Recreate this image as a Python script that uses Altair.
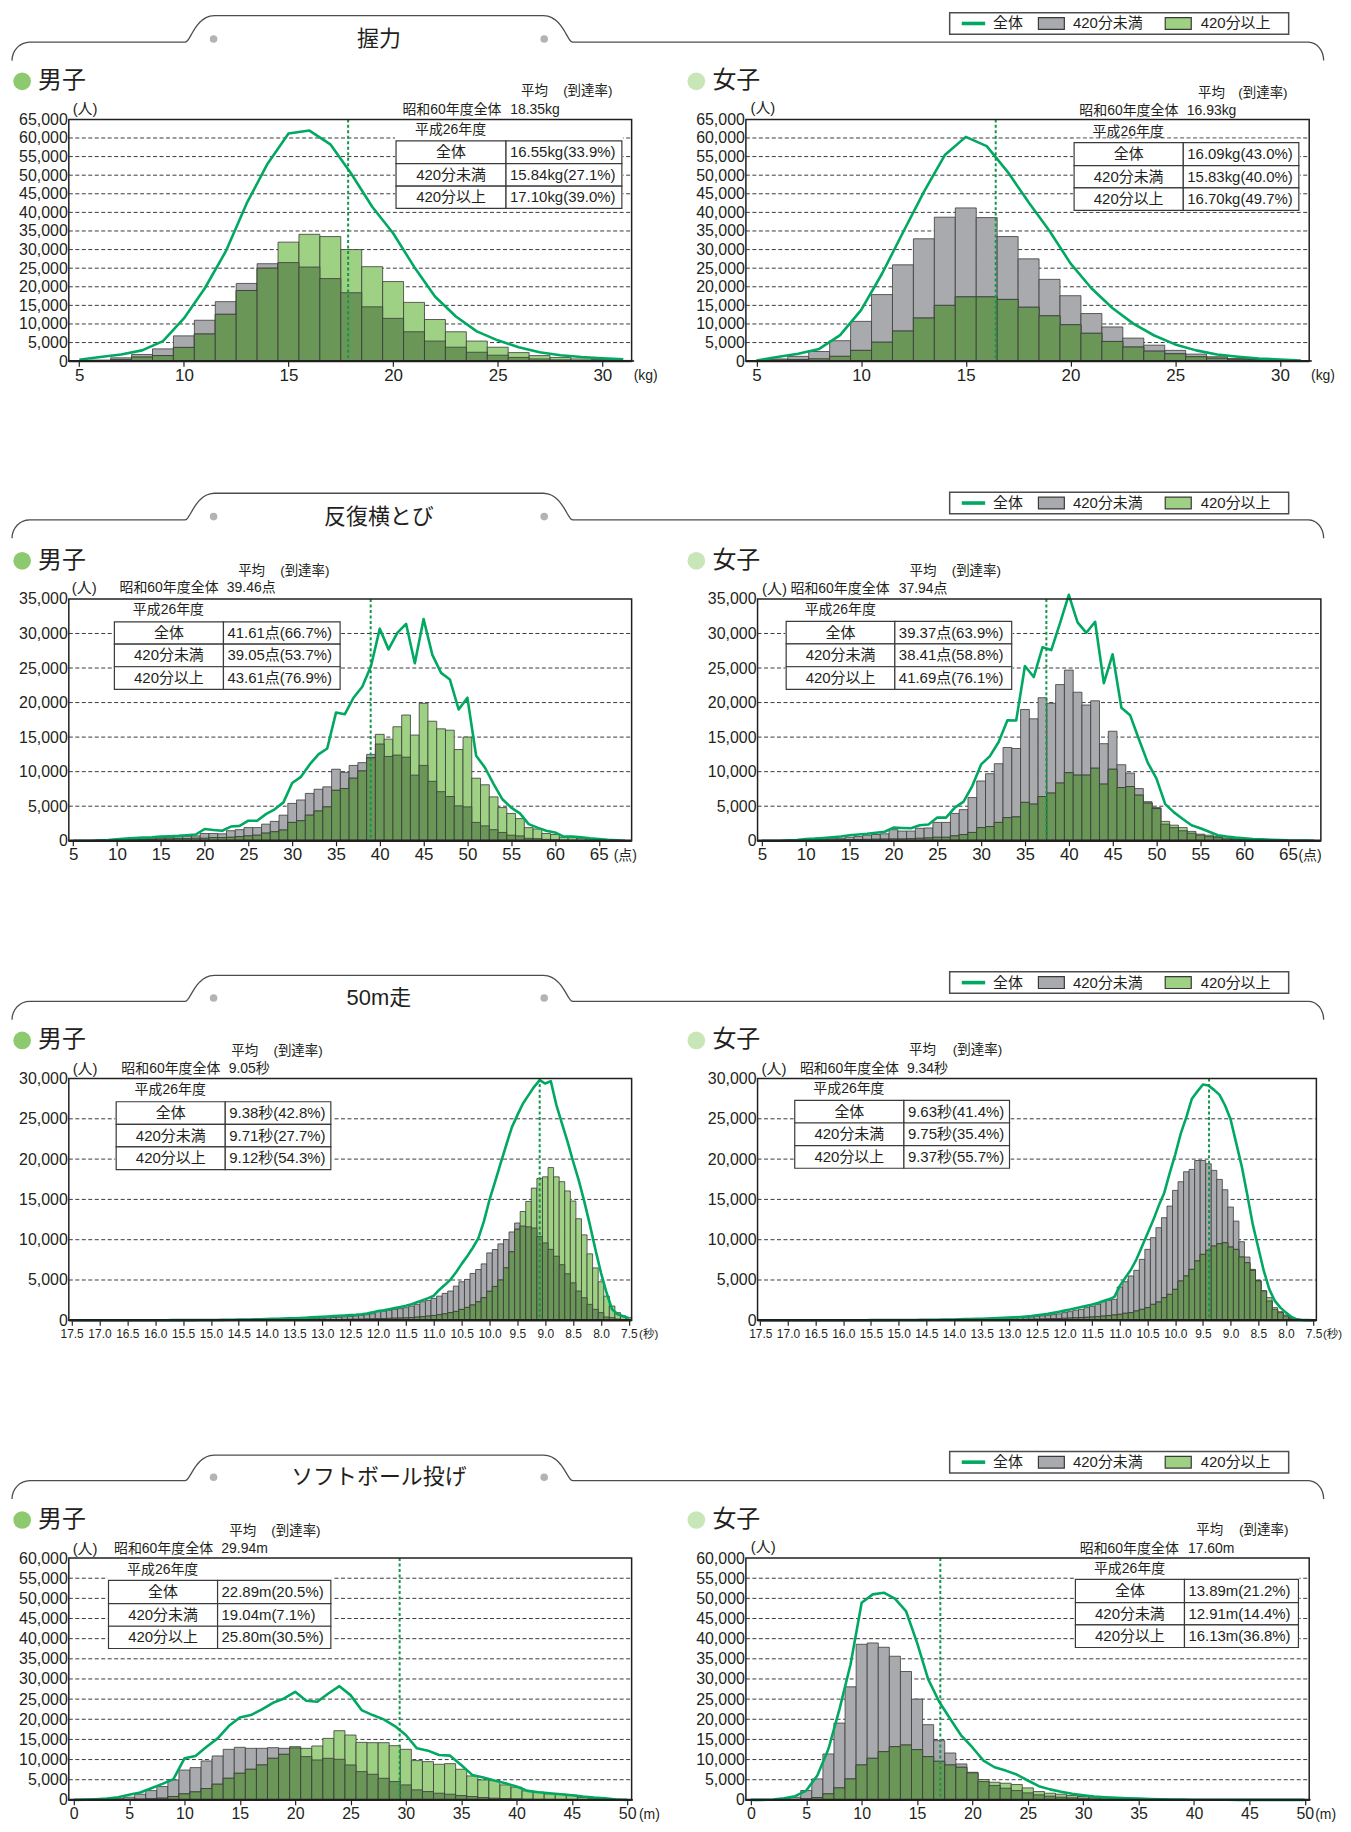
import math
import altair as alt
import pandas as pd

# ----------------------------------------------------------------- categories
GRIP_CLASSES = list(range(5, 32))                                   # kg
SIDE_CLASSES = list(range(5, 69))                                   # 点
RUN_CLASSES = [round(17.5 - 0.1 * i, 1) for i in range(101)]        # 秒 (17.5 -> 7.5)
BALL_CLASSES = list(range(0, 51))                                   # m

# ----------------------------------------------------------------- 握力
B_GRIP_UNDER = [0, 300, 900, 1800, 3300, 6800, 11000, 16000, 20900, 26200, 26500, 25300, 22200, 18400,
                14600, 11500, 7900, 5400, 3750, 2400, 1600, 1000, 600, 350, 200, 100, 50]
B_GRIP_OVER = [0, 100, 400, 1100, 1500, 3700, 7300, 12600, 19000, 25000, 32000, 34100, 33500, 30000,
               25400, 21400, 15800, 11200, 7900, 5400, 3750, 2300, 1500, 1000, 600, 450, 200]
B_GRIP_ALL = [400, 1100, 1800, 2900, 5400, 11500, 19600, 29500, 42400, 53100, 61200, 62000, 58300, 50400,
              41500, 34400, 25400, 17400, 12000, 8000, 5600, 3750, 2400, 1600, 1100, 800, 500]
G_GRIP_UNDER = [0, 600, 1300, 2600, 5500, 10700, 17900, 25900, 32900, 38700, 41200, 38600, 33500, 27500,
                22000, 17600, 12800, 9200, 6200, 4300, 2900, 1900, 1200, 700, 450, 250, 100]
G_GRIP_OVER = [0, 300, 450, 600, 1300, 2900, 5100, 8100, 11600, 15000, 17300, 17300, 16600, 14500,
               12200, 9800, 7500, 5300, 3800, 2700, 2000, 1200, 800, 500, 300, 200, 100]
G_GRIP_ALL = [200, 1100, 2000, 3300, 7000, 13700, 23500, 34600, 45500, 55400, 60300, 57800, 50900, 42700,
              35000, 26300, 19600, 14300, 10100, 6900, 4500, 2900, 1800, 1200, 700, 450, 200]

# ----------------------------------------------------------------- 反復横とび
B_SIDE_UNDER = [0, 0, 0, 50, 100, 200, 250, 300, 300, 350,
                500, 500, 600, 650, 700, 1050, 1050, 1000, 1450, 1600,
                1900, 1900, 2400, 2800, 3700, 5400, 5900, 6850, 7450, 7800,
                10350, 9900, 10900, 11300, 12500, 14000, 12200, 12400, 12100, 9500,
                10900, 8600, 7100, 6400, 5050, 4900, 2650, 2150, 1600, 1200,
                800, 700, 350, 300, 200, 150, 100, 80, 60, 40,
                30, 20, 10, 0]
B_SIDE_OVER = [0, 0, 0, 0, 0, 50, 80, 100, 120, 150,
               250, 250, 300, 300, 350, 350, 450, 450, 500, 600,
               700, 800, 1100, 1300, 1550, 2650, 2900, 3700, 4300, 4900,
               7300, 7550, 9050, 10100, 12000, 15400, 14700, 16500, 18200, 15300,
               19900, 17300, 16200, 16000, 13200, 15000, 9050, 8100, 6350, 4800,
               3950, 3200, 1900, 1700, 1050, 900, 500, 450, 350, 250,
               200, 120, 60, 0]
B_SIDE_ALL = [0, 0, 0, 50, 100, 200, 300, 400, 450, 500,
              600, 650, 700, 800, 900, 1700, 1550, 1450, 2050, 2150,
              2900, 2900, 3850, 4550, 5550, 8350, 9250, 11050, 12500, 13350,
              18550, 18300, 20700, 22300, 25300, 30700, 27700, 30100, 31400, 25700,
              32100, 26900, 24300, 23350, 19000, 20700, 12300, 10600, 8200, 6000,
              4800, 3950, 2400, 1900, 1450, 1200, 600, 600, 500, 350,
              250, 150, 80, 0]
G_SIDE_UNDER = [0, 0, 0, 30, 80, 150, 200, 250, 300, 350,
                500, 600, 800, 900, 1000, 1600, 1400, 1400, 1800, 1850,
                2650, 2650, 3950, 4500, 6250, 8650, 9700, 11150, 13500, 13350,
                19000, 17650, 20700, 19900, 22600, 24700, 21500, 19650, 20250, 14050,
                15850, 11000, 9800, 7550, 5650, 4800, 2400, 1900, 1450, 1100,
                800, 600, 450, 250, 200, 150, 100, 60, 40, 20,
                10, 0, 0, 0]
G_SIDE_OVER = [0, 0, 0, 0, 20, 40, 60, 80, 100, 120,
               150, 180, 200, 220, 240, 250, 250, 300, 350, 400,
               500, 500, 700, 900, 1200, 1900, 2050, 2650, 3350, 3450,
               5550, 5300, 6400, 6900, 8350, 9850, 9500, 9500, 10500, 8200,
               10350, 7700, 7850, 6600, 5450, 4650, 2800, 2250, 1900, 1350,
               950, 800, 600, 400, 300, 250, 150, 100, 60, 30,
               20, 10, 0, 0]
G_SIDE_ALL = [0, 0, 0, 50, 100, 250, 300, 400, 500, 600,
              800, 900, 1000, 1150, 1300, 1900, 1850, 1800, 2250, 2350,
              3350, 3350, 4800, 5650, 7950, 11050, 12250, 14300, 17450, 17400,
              25300, 23700, 28000, 27600, 31500, 35600, 31600, 30100, 31700, 22800,
              27000, 19250, 18150, 14700, 11300, 9000, 5300, 4100, 3150, 2250,
              1800, 1300, 800, 600, 450, 350, 250, 200, 150, 100,
              50, 30, 10, 0]

# ----------------------------------------------------------------- 50m走 (17.5 -> 7.5 秒)
B_RUN_UNDER = [0, 0, 0, 0, 0, 0, 0, 0, 0, 0,
               0, 0, 0, 5, 5, 5, 5, 5, 10, 10,
               10, 10, 15, 15, 20, 20, 25, 30, 30, 35,
               40, 50, 55, 60, 70, 80, 90, 100, 115, 130,
               150, 170, 190, 210, 240, 270, 300, 340, 380, 430,
               480, 540, 610, 700, 800, 1070, 1150, 1240, 1360, 1440,
               1560, 1770, 1980, 2300, 2470, 2720, 3000, 3340, 3630, 4240,
               4780, 5070, 5810, 6300, 7000, 8360, 8780, 9480, 10010, 10960,
               12070, 11700, 11600, 11450, 10400, 9600, 8800, 7950, 6900, 5770,
               4650, 3630, 2800, 1980, 1360, 950, 410, 330, 160, 80,
               30]
B_RUN_OVER = [0, 0, 0, 0, 0, 0, 0, 0, 0, 0,
              0, 0, 0, 0, 0, 0, 0, 0, 0, 0,
              0, 0, 0, 0, 5, 5, 5, 5, 5, 10,
              10, 10, 15, 15, 20, 20, 25, 30, 30, 35,
              40, 45, 50, 55, 60, 70, 80, 90, 100, 110,
              120, 130, 140, 160, 180, 200, 220, 240, 260, 280,
              300, 340, 390, 450, 520, 600, 700, 800, 950, 1100,
              1350, 1600, 1900, 2300, 2800, 3600, 4200, 5000, 6500, 8500,
              11300, 13500, 14750, 16400, 17600, 17800, 18950, 17800, 17200, 16050,
              14800, 12600, 10600, 8240, 6500, 4780, 3000, 1770, 950, 540,
              330]
B_RUN_ALL = [0, 0, 0, 0, 0, 0, 0, 0, 0, 0,
             0, 0, 0, 5, 5, 10, 10, 10, 15, 15,
             20, 20, 25, 30, 35, 40, 45, 50, 60, 70,
             80, 90, 100, 110, 130, 150, 170, 190, 210, 240,
             260, 290, 320, 360, 400, 440, 480, 520, 560, 600,
             640, 690, 760, 850, 980, 1150, 1250, 1380, 1520, 1650,
             1800, 2000, 2250, 2500, 2750, 3050, 3800, 4400, 5050, 5970,
             7000, 7950, 9000, 10200, 12300, 14960, 17200, 19500, 21750, 23940,
             25460, 26900, 27940, 28970, 29790, 29380, 29670, 26700, 24400, 22170,
             19700, 17400, 14750, 11870, 8780, 5890, 3420, 1360, 740, 490,
             250]
G_RUN_UNDER = [0, 0, 0, 0, 0, 0, 0, 0, 0, 0,
               0, 0, 0, 0, 0, 5, 5, 5, 10, 10,
               10, 15, 15, 20, 20, 25, 30, 30, 35, 40,
               45, 50, 60, 70, 80, 90, 100, 110, 130, 150,
               170, 190, 210, 230, 250, 270, 300, 340, 380, 440,
               500, 550, 620, 700, 800, 950, 1070, 1240, 1360, 1570,
               1740, 1980, 2310, 2480, 2600, 4130, 4790, 5500, 6200, 7560,
               8800, 10250, 11490, 12730, 14170, 16120, 17190, 18430, 18720, 19830,
               19830, 19420, 18600, 17480, 16200, 14050, 12310, 9750, 7850, 6320,
               4960, 3640, 2400, 1360, 950, 540, 250, 120, 50, 20,
               0]
G_RUN_OVER = [0, 0, 0, 0, 0, 0, 0, 0, 0, 0,
              0, 0, 0, 0, 0, 0, 0, 0, 0, 0,
              0, 0, 0, 0, 5, 5, 5, 5, 10, 10,
              10, 15, 15, 20, 20, 25, 30, 35, 40, 45,
              50, 55, 60, 70, 80, 90, 100, 110, 120, 130,
              140, 160, 180, 200, 220, 250, 280, 310, 340, 370,
              410, 460, 520, 590, 660, 740, 870, 950, 1160, 1360,
              1570, 1980, 2270, 2810, 3220, 3840, 4880, 5500, 6320, 7360,
              8180, 8680, 9210, 9500, 9630, 9090, 8800, 7850, 7150, 6200,
              4880, 3640, 2810, 1570, 1070, 660, 330, 80, 30, 10,
              0]
G_RUN_ALL = [0, 0, 0, 0, 0, 0, 0, 0, 0, 0,
             0, 0, 0, 0, 5, 5, 5, 10, 10, 10,
             15, 15, 20, 20, 25, 30, 35, 40, 45, 50,
             55, 60, 70, 80, 90, 100, 120, 140, 160, 180,
             200, 220, 250, 280, 300, 330, 370, 410, 460, 520,
             620, 700, 800, 920, 1050, 1200, 1340, 1500, 1650, 1800,
             1950, 2150, 2400, 2600, 2900, 4300, 5300, 6300, 7600, 9200,
             10800, 12400, 14200, 15800, 18300, 20600, 23200, 25200, 27500, 28400,
             29260, 29130, 28590, 27970, 26650, 24920, 22020, 19130, 15620, 11900,
             9010, 6120, 3840, 2400, 1570, 950, 410, 120, 40, 20,
             0]

# ----------------------------------------------------------------- ソフトボール投げ
B_BALL_UNDER = [0, 0, 80, 160, 400, 660, 1400, 2300, 3300, 4950,
                7400, 8000, 9650, 10900, 12540, 13040, 12790, 12790, 12950, 12790,
                12900, 10730, 9900, 10310, 10070, 8660, 7010, 6350, 5360, 4540,
                3710, 2480, 2060, 1650, 1400, 1070, 830, 580, 410, 330,
                250, 170, 130, 100, 80, 60, 40, 30, 20, 10,
                0]
B_BALL_OVER = [0, 0, 0, 20, 50, 100, 160, 250, 410, 830,
               1490, 1980, 2800, 3880, 5360, 6600, 7590, 8660, 10310, 11300,
               13200, 12790, 13370, 15260, 17160, 16090, 14270, 14190, 14190, 13450,
               12540, 9740, 9490, 8830, 8990, 7590, 5940, 4950, 4790, 3710,
               3140, 2230, 1900, 1490, 1400, 1160, 580, 410, 330, 160,
               0]
B_BALL_ALL = [0, 50, 160, 330, 660, 1240, 1820, 2890, 3960, 5120,
              10310, 10890, 13200, 15260, 18320, 20460, 21040, 22440, 24090, 25170,
              26820, 24590, 24340, 26400, 28220, 25990, 22280, 21040, 19970, 18320,
              16090, 12790, 12210, 11140, 10970, 8660, 6190, 5530, 4790, 4130,
              3300, 2230, 1900, 1650, 1400, 1160, 830, 580, 410, 80,
              0]
G_BALL_UNDER = [0, 0, 80, 250, 660, 2310, 5200, 11390, 19060, 28050,
                38610, 38940, 37870, 35640, 31850, 25000, 18650, 14690, 11630, 8910,
                6700, 4540, 3550, 2890, 2310, 1730, 1240, 910, 660, 500,
                410, 250, 170, 120, 80, 60, 50, 40, 30, 20,
                15, 10, 10, 5, 5, 0, 0, 0, 0, 0,
                0]
G_BALL_OVER = [0, 0, 0, 0, 80, 250, 580, 1490, 2970, 5200,
               8660, 10310, 11960, 13200, 13610, 12460, 10730, 9570, 8660, 8090,
               6850, 5030, 4370, 4130, 3800, 2970, 2060, 1650, 1400, 1070,
               830, 660, 500, 410, 330, 250, 200, 150, 120, 100,
               80, 60, 50, 40, 30, 20, 15, 10, 5, 0,
               0]
G_BALL_ALL = [0, 0, 80, 410, 910, 2310, 6020, 12620, 22520, 33660,
              48930, 50990, 51400, 49920, 46860, 39030, 29950, 24340, 20050, 15920,
              13000, 9740, 8090, 7260, 6270, 4800, 3400, 2600, 2000, 1500,
              1150, 850, 650, 500, 400, 300, 200, 150, 80, 60,
              40, 30, 20, 10, 0, 0, 0, 0, 0, 0,
              0]

# ----------------------------------------------------------------- texts
TEST_NAMES = ["握力", "反復横とび", "50m走", "ソフトボール投げ"]
SEX_NAMES = ["男子", "女子"]
GROUP_NAMES = ["全体", "420分未満", "420分以上"]
S60_LABEL = "昭和60年度全体"
H26_LABEL = "平成26年度"
AVG_LABEL = "平均"
RATE_LABEL = "(到達率)"
PEOPLE_LABEL = "(人)"
UNITS = ["(kg)", "(点)", "(秒)", "(m)"]

S60_VALUES = ["18.35kg", "16.93kg", "39.46点", "37.94点", "9.05秒", "9.34秒", "29.94m", "17.60m"]
S60_MEANS = [18.35, 16.93, 39.46, 37.94, 9.05, 9.34, 29.94, 17.60]
H26_VALUES = [
    ["16.55kg(33.9%)", "15.84kg(27.1%)", "17.10kg(39.0%)"],
    ["16.09kg(43.0%)", "15.83kg(40.0%)", "16.70kg(49.7%)"],
    ["41.61点(66.7%)", "39.05点(53.7%)", "43.61点(76.9%)"],
    ["39.37点(63.9%)", "38.41点(58.8%)", "41.69点(76.1%)"],
    ["9.38秒(42.8%)", "9.71秒(27.7%)", "9.12秒(54.3%)"],
    ["9.63秒(41.4%)", "9.75秒(35.4%)", "9.37秒(55.7%)"],
    ["22.89m(20.5%)", "19.04m(7.1%)", "25.80m(30.5%)"],
    ["13.89m(21.2%)", "12.91m(14.4%)", "16.13m(36.8%)"],
]

# ----------------------------------------------------------------- style / layout
FONT = "Liberation Sans, Noto Sans CJK JP"
NUM_FONT = "Liberation Sans"
INK = "#231f20"
C_UNDER = "#a9aaad"
C_OVER = "#9ed183"
C_BOTH = "#6a9658"
C_EDGE = "#3b3b3b"
C_TOTAL = "#00a862"
C_MEAN = "#13974b"
C_GRID = "#3a3a3a"
C_TAB = "#3a3a3a"
C_HEAD = "#4d4d4d"
C_BOY = "#8dca6f"
C_GIRL = "#c8e6b7"
C_DOT = "#b3b3b3"

H = 242.5
BOYS_W = 564.5
GIRLS_W = [565.0, 565.0, 560.5, 565.0]
GIRLS_SHIFT = [0.0, 11.7, 11.7, 0.0]
COL_GAP = 743.6 - 65.0 - BOYS_W
ROW_GAP = 238.0
UNIT_X = [566.6, 566.8, 546.5, 542.5, 572.0, 567.2, 571.8, 571.0]
UNIT_FS = [14, 14, 14, 14, 11.5, 11.5, 14, 14]

KINDS = {
    "grip": dict(domain=[5, 31.9], reverse=False, ymax=65000,
                 ticks=[v + 0.5 for v in range(5, 31, 5)], expr="round(datum.value - 0.5)",
                 lsize=17, lpad=1, unit=0),
    "side": dict(domain=[5, 69.25], reverse=False, ymax=35000,
                 ticks=[v + 0.5 for v in range(5, 66, 5)], expr="round(datum.value - 0.5)",
                 lsize=17, lpad=1, unit=1),
    "run": dict(domain=[7.4, 17.5], reverse=True, ymax=30000,
                ticks=[round(17.45 - 0.5 * k, 2) for k in range(21)], expr="format(datum.value + 0.05, '.1f')",
                lsize=12, lpad=3.5, unit=2),
    "ball": dict(domain=[0.05, 50.9], reverse=False, ymax=60000,
                 ticks=[v + 0.5 for v in range(0, 51, 5)], expr="round(datum.value - 0.5)",
                 lsize=16, lpad=1, unit=3),
}

# annotation layout relative to each plot area (px)
LAYOUT = [
    dict(tbl=(328.2, 438.5, 554.7), rows=(21.6, 44.3, 67.0, 89.3), head=(382.9, 11.0), s60=(334.6, 442.7, -9.7), avg=(467.1, 520.5, -28.4), nin=(16.3, -10.7)),
    dict(tbl=(329.2, 438.7, 554.6), rows=(23.3, 46.3, 68.7, 91.3), head=(383.5, 12.3), s60=(334.4, 442.2, -8.3), avg=(466.9, 518.6, -26.7), nin=(17.0, -11.0)),
    dict(tbl=(45.7, 155.1, 272.1), rows=(23.0, 45.4, 68.0, 90.7), head=(99.9, 10.7), s60=(50.8, 158.5, -11.0), avg=(183.3, 236.7, -27.6), nin=(15.5, -11.0)),
    dict(tbl=(28.7, 137.7, 254.9), rows=(22.4, 45.0, 68.0, 90.7), head=(83.0, 11.4), s60=(33.0, 141.6, -10.0), avg=(165.9, 219.4, -27.6), nin=(16.9, -10.0)),
    dict(tbl=(47.5, 156.9, 262.8), rows=(23.3, 46.0, 68.6, 91.3), head=(101.7, 11.6), s60=(52.6, 160.3, -9.4), avg=(176.5, 229.9, -27.4), nin=(16.3, -9.4)),
    dict(tbl=(37.3, 146.8, 252.7), rows=(22.0, 44.6, 67.3, 90.0), head=(91.6, 11.0), s60=(42.5, 149.8, -10.0), avg=(165.4, 220.6, -28.4), nin=(16.4, -10.0)),
    dict(tbl=(39.8, 149.2, 262.8), rows=(22.4, 45.7, 68.4, 90.7), head=(94.1, 12.4), s60=(45.3, 153.0, -9.3), avg=(174.4, 227.8, -27.0), nin=(16.3, -9.3)),
    dict(tbl=(330.5, 439.9, 554.2), rows=(21.4, 44.7, 67.0, 89.7), head=(384.8, 11.4), s60=(334.8, 443.4, -9.3), avg=(465.2, 519.4, -28.0), nin=(17.4, -11.3)),
]
HEAD_LINE_Y = [-77.4, -79.3, -77.4, -77.6]
HEAD_TOP_Y = [-104.0, -106.0, -103.4, -103.3]
HEAD_TITLE_Y = [-80.7, -82.6, -80.7, -81.0]

PANELS = [
    dict(kind="grip", classes=GRIP_CLASSES, u=B_GRIP_UNDER, o=B_GRIP_OVER, t=B_GRIP_ALL),
    dict(kind="grip", classes=GRIP_CLASSES, u=G_GRIP_UNDER, o=G_GRIP_OVER, t=G_GRIP_ALL),
    dict(kind="side", classes=SIDE_CLASSES, u=B_SIDE_UNDER, o=B_SIDE_OVER, t=B_SIDE_ALL),
    dict(kind="side", classes=SIDE_CLASSES, u=G_SIDE_UNDER, o=G_SIDE_OVER, t=G_SIDE_ALL),
    dict(kind="run", classes=RUN_CLASSES, u=B_RUN_UNDER, o=B_RUN_OVER, t=B_RUN_ALL),
    dict(kind="run", classes=RUN_CLASSES, u=G_RUN_UNDER, o=G_RUN_OVER, t=G_RUN_ALL),
    dict(kind="ball", classes=BALL_CLASSES, u=B_BALL_UNDER, o=B_BALL_OVER, t=B_BALL_ALL),
    dict(kind="ball", classes=BALL_CLASSES, u=G_BALL_UNDER, o=G_BALL_OVER, t=G_BALL_ALL),
]


def bars_frame(kind, classes, u, o, t):
    rows = []
    for c, a, b, tt in zip(classes, u, o, t):
        if kind == "run":
            lo, hi, mid = round(c - 0.1, 2), c, round(c - 0.05, 2)
        else:
            lo, hi, mid = c, c + 1, c + 0.5
        rows.append(dict(lo=lo, hi=hi, mid=mid, u=a, o=b, d=min(a, b), t=tt))
    return pd.DataFrame(rows)


def header_points(ly, ty):
    pts = []
    for k in range(9):
        a = math.pi + 0.5 * math.pi * k / 8
        pts.append((-39.4 + 17.6 * math.cos(a), ly + 18.4 + 18.4 * math.sin(a)))

    def bez(p0, p1, p2, p3):
        out = []
        for k in range(13):
            s = k / 12
            x = (1 - s) ** 3 * p0[0] + 3 * (1 - s) ** 2 * s * p1[0] + 3 * (1 - s) * s * s * p2[0] + s ** 3 * p3[0]
            y = (1 - s) ** 3 * p0[1] + 3 * (1 - s) ** 2 * s * p1[1] + 3 * (1 - s) * s * s * p2[1] + s ** 3 * p3[1]
            out.append((x, y))
        return out

    pts += bez((116.6, ly), (122.0, ly), (127.0, ty), (146.0, ty))
    pts += bez((476.0, ty), (495.0, ty), (500.0, ly), (505.4, ly))
    for k in range(9):
        a = 1.5 * math.pi + 0.5 * math.pi * k / 8
        pts.append((1243.4 + 15.2 * math.cos(a), ly + 18.4 + 18.4 * math.sin(a)))
    return pd.DataFrame([dict(px=p[0], py=p[1], i=i) for i, p in enumerate(pts)])


def text_layer(rows, align):
    return alt.Chart(pd.DataFrame(rows)).mark_text(
        align=align, baseline="middle", font=FONT, color=INK
    ).encode(
        x=alt.X("px:Q", scale=None, axis=None),
        y=alt.Y("py:Q", scale=None, axis=None),
        text=alt.Text("t:N"),
        size=alt.Size("fs:Q", scale=None, legend=None),
    )


def make_panel(idx):
    sp = PANELS[idx]
    row, girl = idx // 2, idx % 2 == 1
    K = KINDS[sp["kind"]]
    L = LAYOUT[idx]
    pw = GIRLS_W[row] if girl else BOYS_W
    sh = GIRLS_SHIFT[row] if girl else 0.0

    xs = alt.Scale(domain=K["domain"], reverse=K["reverse"], range=[sh, sh + pw], nice=False, zero=False)
    ys = alt.Scale(domain=[0, K["ymax"]], nice=False, zero=True)
    bars = bars_frame(sp["kind"], sp["classes"], sp["u"], sp["o"], sp["t"])

    xaxis = alt.Axis(values=K["ticks"], labelExpr=K["expr"], title=None, grid=False, domain=False,
                     ticks=True, tickSize=5, tickWidth=1.2, tickColor=INK, labelFont=NUM_FONT,
                     labelFontSize=K["lsize"], labelColor=INK, labelPadding=K["lpad"], labelFlush=False,
                     labelOverlap=False)
    yaxis = alt.Axis(values=list(range(0, K["ymax"] + 1, 5000)), format=",d", title=None, grid=False,
                     domain=False, ticks=False, tickSize=0, labelFont=NUM_FONT, labelFontSize=16,
                     labelColor=INK, labelPadding=1.5, labelFlush=False, offset=-sh)

    def X(f):
        return alt.X(f, scale=xs, axis=xaxis)

    def Y(f):
        return alt.Y(f, scale=ys, axis=yaxis)

    grid = alt.Chart(pd.DataFrame({"g": list(range(5000, K["ymax"], 5000))})).mark_rule(
        color=C_GRID, strokeWidth=1.0, strokeDash=[4, 2.5]
    ).encode(y=Y("g:Q"), x=alt.value(sh), x2=alt.value(sh + pw))

    def barlayer(field, col):
        return alt.Chart(bars).mark_bar(color=col, stroke=C_EDGE, strokeWidth=0.8).encode(
            x=X("lo:Q"), x2="hi", y=Y(field), y2=alt.datum(0))

    under = barlayer("u:Q", C_UNDER)
    over = barlayer("o:Q", C_OVER)
    both = barlayer("d:Q", C_BOTH)
    total = alt.Chart(bars).mark_line(color=C_TOTAL, strokeWidth=2.6, strokeJoin="round").encode(
        x=X("mid:Q"), y=Y("t:Q"))
    mean = alt.Chart(pd.DataFrame({"m": [S60_MEANS[idx]]})).mark_rule(
        color=C_MEAN, strokeWidth=2, strokeDash=[3, 2.5]
    ).encode(x=X("m:Q"))

    # ---- rectangles: table, frame, legend
    x0, xsp, x1 = [v + sh for v in L["tbl"]]
    r = L["rows"]
    rects = [dict(a=x0 - 1, b=x1 + 1, c=r[0] - 4, d=r[3] + 1, f="white", s="white", w=0)]
    for i in range(3):
        rects.append(dict(a=x0, b=xsp, c=r[i], d=r[i + 1], f="white", s=C_TAB, w=1.2))
        rects.append(dict(a=xsp, b=x1, c=r[i], d=r[i + 1], f="white", s=C_TAB, w=1.2))
    rects.append(dict(a=sh, b=sh + pw, c=0, d=H, f="transparent", s=INK, w=1.5))
    rects.append(dict(a=sh, b=sh + pw, c=H - 1.2, d=H + 1.2, f=INK, s=INK, w=0))

    tc, tl = [], []
    for i in range(3):
        cy = (r[i] + r[i + 1]) / 2
        tc.append(dict(px=(x0 + xsp) / 2, py=cy, t=GROUP_NAMES[i], fs=15))
        tl.append(dict(px=xsp + 4, py=cy, t=H26_VALUES[idx][i], fs=15))
    tc.append(dict(px=L["head"][0] + sh, py=L["head"][1], t=H26_LABEL, fs=14))
    tl.append(dict(px=L["s60"][0] + sh, py=L["s60"][2], t=S60_LABEL, fs=14))
    tl.append(dict(px=L["s60"][1] + sh, py=L["s60"][2], t=S60_VALUES[idx], fs=14))
    tc.append(dict(px=L["avg"][0] + sh, py=L["avg"][2], t=AVG_LABEL, fs=13.5))
    tc.append(dict(px=L["avg"][1] + sh, py=L["avg"][2], t=RATE_LABEL, fs=13.5))
    tc.append(dict(px=L["nin"][0] + sh, py=L["nin"][1], t=PEOPLE_LABEL, fs=15))
    tl.append(dict(px=UNIT_X[idx] + sh, py=H + 15.0, t=UNITS[K["unit"]], fs=UNIT_FS[idx]))

    circles = []
    layers_extra = []
    if girl:
        circles.append(dict(px=-49.7, py=-38.2, sz=math.pi * 100, f=C_GIRL))
        tl.append(dict(px=-33.6, py=-38.2, t=SEX_NAMES[1], fs=24))
        ly0, ly1 = -107.0, -85.4
        lc = (ly0 + ly1) / 2
        rects.append(dict(a=204.4, b=544.4, c=ly0, d=ly1, f="white", s=C_HEAD, w=1.5))
        rects.append(dict(a=216.5, b=240.0, c=lc - 1.8, d=lc + 1.8, f=C_TOTAL, s=C_TOTAL, w=0))
        rects.append(dict(a=293.4, b=319.4, c=lc - 5.9, d=lc + 5.9, f=C_UNDER, s=C_TAB, w=1.2))
        rects.append(dict(a=420.6, b=446.7, c=lc - 5.9, d=lc + 5.9, f=C_OVER, s=C_TAB, w=1.2))
        tl.append(dict(px=247.8, py=lc, t=GROUP_NAMES[0], fs=15))
        tl.append(dict(px=328.1, py=lc, t=GROUP_NAMES[1], fs=15))
        tl.append(dict(px=456.2, py=lc, t=GROUP_NAMES[2], fs=15))
    else:
        circles.append(dict(px=-46.8, py=-38.2, sz=math.pi * 100, f=C_BOY))
        tl.append(dict(px=-30.8, py=-38.2, t=SEX_NAMES[0], fs=24))
        circles.append(dict(px=145.2, py=HEAD_TITLE_Y[row], sz=math.pi * 4.3 ** 2, f=C_DOT))
        circles.append(dict(px=476.8, py=HEAD_TITLE_Y[row], sz=math.pi * 4.3 ** 2, f=C_DOT))
        tc.append(dict(px=311.0, py=HEAD_TITLE_Y[row], t=TEST_NAMES[row], fs=22))
        head = alt.Chart(header_points(HEAD_LINE_Y[row], HEAD_TOP_Y[row])).mark_line(
            color=C_HEAD, strokeWidth=1.3
        ).encode(x=alt.X("px:Q", scale=None, axis=None), y=alt.Y("py:Q", scale=None, axis=None),
                 order=alt.Order("i:Q"))
        layers_extra.append(head)

    rect_layer = alt.Chart(pd.DataFrame(rects)).mark_rect().encode(
        x=alt.X("a:Q", scale=None, axis=None), x2="b",
        y=alt.Y("c:Q", scale=None, axis=None), y2="d",
        fill=alt.Fill("f:N", scale=None, legend=None),
        stroke=alt.Stroke("s:N", scale=None, legend=None),
        strokeWidth=alt.StrokeWidth("w:Q", scale=None, legend=None),
    )
    circle_layer = alt.Chart(pd.DataFrame(circles)).mark_circle(opacity=1).encode(
        x=alt.X("px:Q", scale=None, axis=None), y=alt.Y("py:Q", scale=None, axis=None),
        size=alt.Size("sz:Q", scale=None, legend=None),
        fill=alt.Fill("f:N", scale=None, legend=None),
    )

    layers = [grid, under, over, both, total, mean, rect_layer] + layers_extra + [
        circle_layer, text_layer(tc, "center"), text_layer(tl, "left")]
    return alt.layer(*layers).properties(width=pw + sh, height=H)


panels = [make_panel(i) for i in range(8)]
chart = alt.concat(
    *panels, columns=2, bounds="flush", spacing={"row": ROW_GAP, "column": COL_GAP}
).properties(padding=0, background="white").configure_view(stroke="transparent")

chart.save("out.html", embed_options={"renderer": "svg", "actions": False})
